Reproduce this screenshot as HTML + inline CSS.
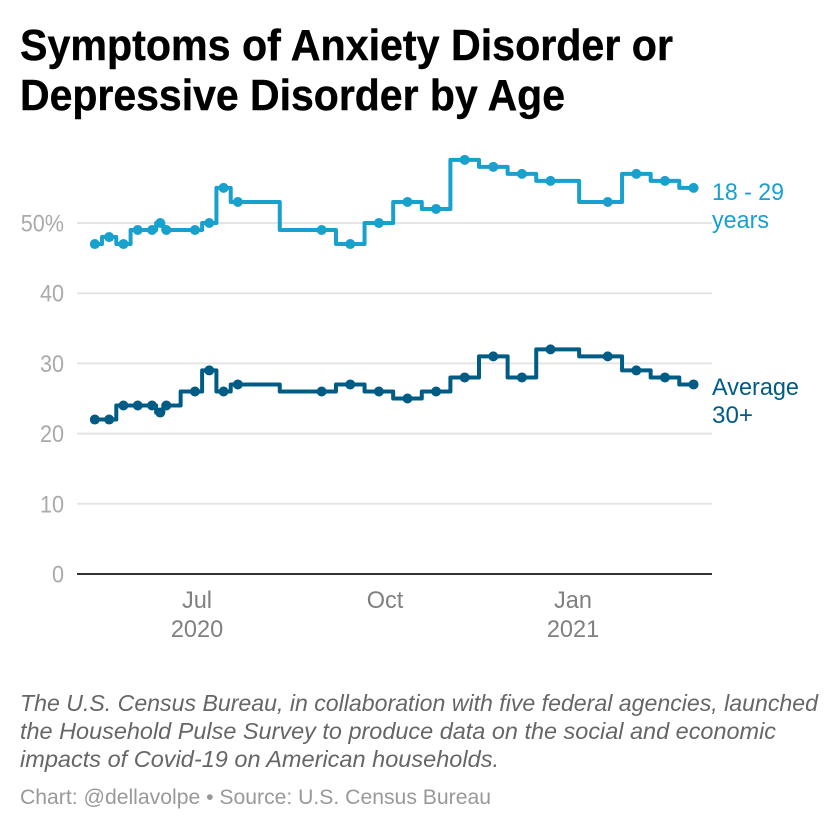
<!DOCTYPE html>
<html lang="en">
<head>
<meta charset="utf-8">
<title>Symptoms of Anxiety Disorder or Depressive Disorder by Age</title>
<style>
html,body{margin:0;padding:0;background:#fff;}
svg{display:block;font-family:"Liberation Sans",sans-serif;}
</style>
</head>
<body>
<svg id="chart" width="840" height="840" viewBox="0 0 840 840" xmlns="http://www.w3.org/2000/svg">
  <rect x="0" y="0" width="840" height="840" fill="#ffffff"/>
  <text x="20" y="60" font-size="44" font-weight="700" fill="#000" stroke="#000" stroke-width="0.4" textLength="653" lengthAdjust="spacingAndGlyphs">Symptoms of Anxiety Disorder or</text>
  <text x="20" y="110" font-size="44" font-weight="700" fill="#000" stroke="#000" stroke-width="0.4" textLength="545" lengthAdjust="spacingAndGlyphs">Depressive Disorder by Age</text>
  <g id="grid"></g>
  <g id="yticks"></g>
  <g id="xticks"></g>
  <g id="series"></g>
  <text x="712" y="200" font-size="24" fill="#18a1cd" textLength="72" lengthAdjust="spacingAndGlyphs">18 - 29</text>
  <text x="712" y="228" font-size="24" fill="#18a1cd" textLength="57" lengthAdjust="spacingAndGlyphs">years</text>
  <text x="712" y="395" font-size="24" fill="#005c84" textLength="87" lengthAdjust="spacingAndGlyphs">Average</text>
  <text x="712" y="423" font-size="24" fill="#005c84" textLength="41" lengthAdjust="spacingAndGlyphs">30+</text>
  <text x="20" y="711" font-size="23.5" font-style="italic" fill="#666666" textLength="798" lengthAdjust="spacingAndGlyphs">The U.S. Census Bureau, in collaboration with five federal agencies, launched</text>
  <text x="20" y="739" font-size="23.5" font-style="italic" fill="#666666" textLength="756" lengthAdjust="spacingAndGlyphs">the Household Pulse Survey to produce data on the social and economic</text>
  <text x="20" y="767" font-size="23.5" font-style="italic" fill="#666666" textLength="479" lengthAdjust="spacingAndGlyphs">impacts of Covid-19 on American households.</text>
  <text x="20" y="804" font-size="21" fill="#999999" textLength="471" lengthAdjust="spacingAndGlyphs">Chart: @dellavolpe • Source: U.S. Census Bureau</text>
</svg>
<script>
const surveyDates = ["2020-05-12","2020-05-19","2020-05-26","2020-06-02","2020-06-09","2020-06-13","2020-06-16","2020-06-30","2020-07-07","2020-07-14","2020-07-21","2020-08-31","2020-09-14","2020-09-28","2020-10-12","2020-10-26","2020-11-09","2020-11-23","2020-12-07","2020-12-21","2021-01-18","2021-02-01","2021-02-15","2021-03-01"];
const youngAdults = [47,48,47,49,49,50,49,49,50,55,53,49,47,50,53,52,59,58,57,56,53,57,56,55];
const olderAdults = [22,22,24,24,24,23,24,26,29,26,27,26,27,26,25,26,28,31,28,32,31,29,28,27];
const yTicks = [0,10,20,30,40,50];
const yTickLabels = ["0","10","20","30","40","50%"];
const xTickDates = ["2020-07-01","2020-10-01","2021-01-01"];
const xTickLabels = ["Jul","Oct","Jan"];
const xTickYears = ["2020","","2021"];

const SVG_NS = "http://www.w3.org/2000/svg";
const DAY_MS = 86400000;
const X_ORIGIN_DATE = Date.parse("2020-07-01");
function xScale(dateString) {
  return 197 + (Date.parse(dateString) - X_ORIGIN_DATE) / DAY_MS * 2.0435;
}
function yScale(value) {
  return 574 - value * 7.02;
}
function make(tag, attrs, parent) {
  const el = document.createElementNS(SVG_NS, tag);
  for (const k in attrs) el.setAttribute(k, attrs[k]);
  parent.appendChild(el);
  return el;
}
function narrow(el, factor) {
  el.setAttribute("textLength", (el.getComputedTextLength() * factor).toFixed(2));
  el.setAttribute("lengthAdjust", "spacingAndGlyphs");
}
const gridGroup = document.getElementById("grid");
const yGroup = document.getElementById("yticks");
const xGroup = document.getElementById("xticks");
const seriesGroup = document.getElementById("series");

yTicks.forEach(function (tick, i) {
  const y = yScale(tick);
  const line = make("line", {x1: 77, x2: 712, y1: y, y2: y, stroke: tick === 0 ? "#333333" : "#e5e5e5", "stroke-width": 2}, gridGroup);
  
  
  const label = make("text", {x: 64, y: y + 8.5, "text-anchor": "end", "font-size": 24, fill: "#aaaaaa"}, yGroup);
  label.textContent = yTickLabels[i];
  
  
  narrow(label, 0.9);
});

xTickDates.forEach(function (date, i) {
  const x = xScale(date);
  const month = make("text", {x: x, y: 608, "text-anchor": "middle", "font-size": 24, fill: "#808080"}, xGroup);
  month.textContent = xTickLabels[i];
  
  
  narrow(month, 0.98);
  if (xTickYears[i]) {
    const year = make("text", {x: x, y: 637, "text-anchor": "middle", "font-size": 24, fill: "#808080"}, xGroup);
    year.textContent = xTickYears[i];
    
    
    narrow(year, 0.98);
  }
});

function stepPath(values) {
  let d = "M" + xScale(surveyDates[0]) + "," + yScale(values[0]);
  for (let i = 1; i < values.length; i++) {
    const mid = (xScale(surveyDates[i - 1]) + xScale(surveyDates[i])) / 2;
    d += "H" + mid + "V" + yScale(values[i]);
  }
  d += "H" + xScale(surveyDates[values.length - 1]);
  return d;
}
function drawSeries(values, color) {
  const path = make("path", {d: stepPath(values), fill: "none", stroke: color, "stroke-width": 4, "stroke-linejoin": "round"}, seriesGroup);
  
  
  values.forEach(function (value, i) {
    const dot = make("circle", {cx: xScale(surveyDates[i]), cy: yScale(value), r: 5, fill: color}, seriesGroup);
    
    
  });
}
drawSeries(youngAdults, "#18a1cd");
drawSeries(olderAdults, "#005c84");
</script>
</body>
</html>
